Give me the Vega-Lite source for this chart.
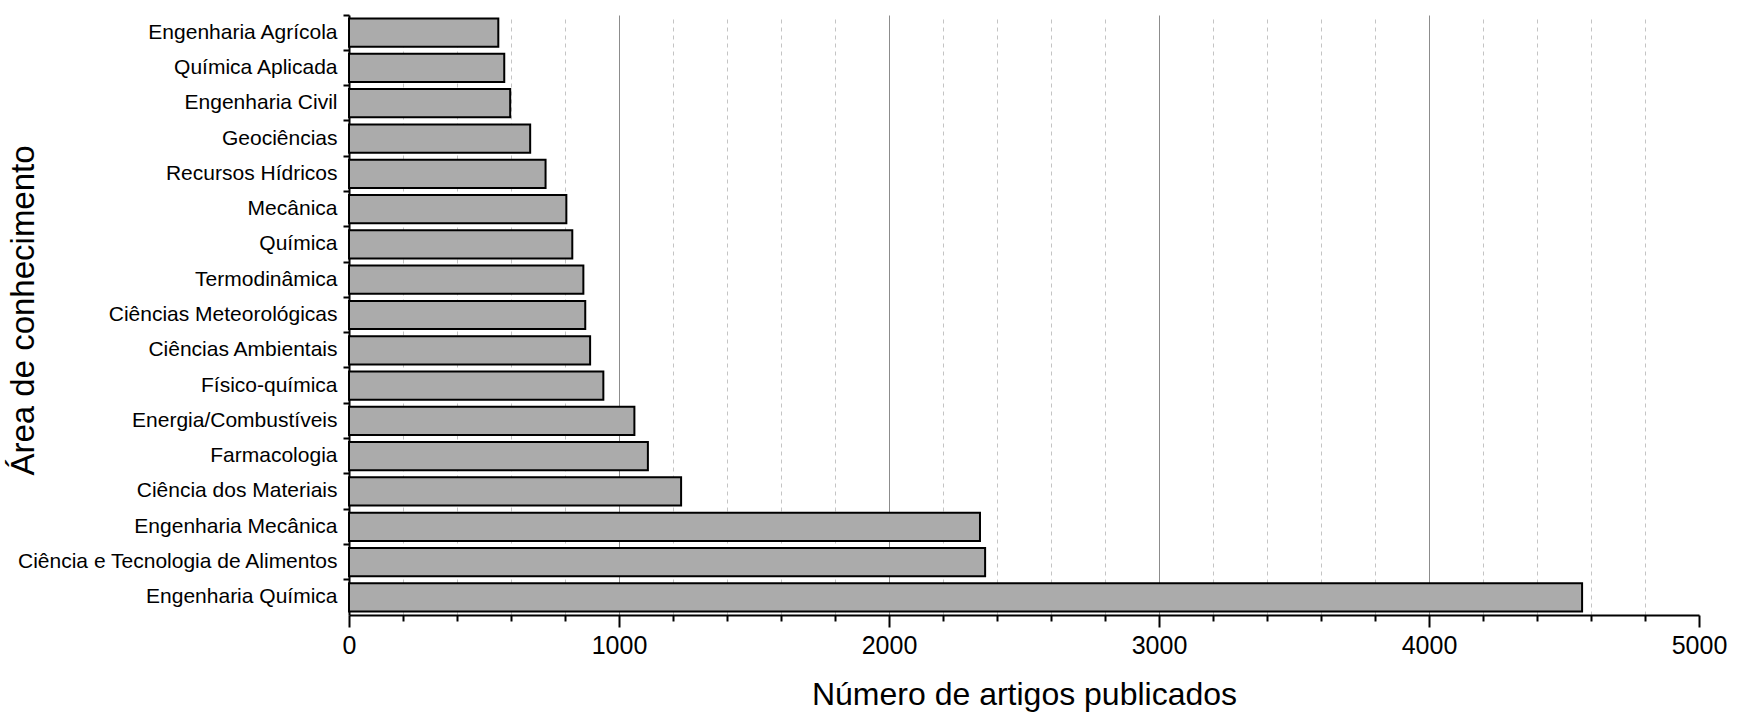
{
  "$schema": "https://vega.github.io/schema/vega-lite/v6.json",
  "autosize": "none",
  "width": 1350,
  "height": 600,
  "padding": {"left": 349, "top": 15, "right": 42, "bottom": 108},
  "background": "white",
  "config": {
    "view": {"stroke": null},
    "font": "Liberation Sans",
    "axis": {"labelColor": "black", "titleColor": "black", "titleFontWeight": "normal", "labelFont": "Liberation Sans", "titleFont": "Liberation Sans"}
  },
  "data": {
    "values": [
      {"area": "Engenharia Agrícola", "artigos": 553},
      {"area": "Química Aplicada", "artigos": 575},
      {"area": "Engenharia Civil", "artigos": 597},
      {"area": "Geociências", "artigos": 671},
      {"area": "Recursos Hídricos", "artigos": 728},
      {"area": "Mecânica", "artigos": 805},
      {"area": "Química", "artigos": 827},
      {"area": "Termodinâmica", "artigos": 868},
      {"area": "Ciências Meteorológicas", "artigos": 875},
      {"area": "Ciências Ambientais", "artigos": 893},
      {"area": "Físico-química", "artigos": 942},
      {"area": "Energia/Combustíveis", "artigos": 1057},
      {"area": "Farmacologia", "artigos": 1107},
      {"area": "Ciência dos Materiais", "artigos": 1230},
      {"area": "Engenharia Mecânica", "artigos": 2337},
      {"area": "Ciência e Tecnologia de Alimentos", "artigos": 2356},
      {"area": "Engenharia Química", "artigos": 4567}
    ]
  },
  "mark": {"type": "bar", "fill": "#ababab", "stroke": "black", "strokeWidth": 2, "height": {"band": 0.8}},
  "encoding": {
    "y": {
      "field": "area",
      "type": "nominal",
      "sort": null,
      "scale": {"paddingInner": 0, "paddingOuter": 0},
      "axis": {
        "title": "Área de conhecimento",
        "titleFontSize": 33,
        "titleAngle": -90,
        "titleX": -316,
        "titleY": 295,
        "titleAlign": "center",
        "titleBaseline": "alphabetic",
        "labelFontSize": 21,
        "labelPadding": 6,
        "labelLimit": 400,
        "tickSize": 6,
        "tickWidth": 2,
        "tickColor": "black",
        "bandPosition": 0,
        "domainColor": "black",
        "domainWidth": 2,
        "grid": false
      }
    },
    "x": {
      "field": "artigos",
      "type": "quantitative",
      "scale": {"domain": [0, 5000], "nice": false, "zero": true},
      "axis": {
        "title": "Número de artigos publicados",
        "titleFontSize": 32,
        "titleY": 89,
        "titleBaseline": "alphabetic",
        "values": [0, 200, 400, 600, 800, 1000, 1200, 1400, 1600, 1800, 2000, 2200, 2400, 2600, 2800, 3000, 3200, 3400, 3600, 3800, 4000, 4200, 4400, 4600, 4800, 5000],
        "labelExpr": "datum.value % 1000 === 0 ? datum.value : ''",
        "labelFontSize": 25,
        "labelPadding": 6,
        "labelFlush": false,
        "labelOverlap": false,
        "tickSize": {"condition": {"test": "datum.value % 1000 === 0", "value": 12}, "value": 6},
        "tickWidth": 2,
        "tickColor": "black",
        "domainColor": "black",
        "domainWidth": 2,
        "grid": true,
        "gridColor": {"condition": {"test": "datum.value % 1000 === 0", "value": "#8c8c8c"}, "value": "#c4c4c4"},
        "gridDash": {"condition": {"test": "datum.value % 1000 === 0", "value": []}, "value": [4, 4]},
        "gridWidth": 1,
        "gridOpacity": {"condition": {"test": "datum.value === 0 || datum.value === 5000", "value": 0}, "value": 1}
      }
    }
  }
}
